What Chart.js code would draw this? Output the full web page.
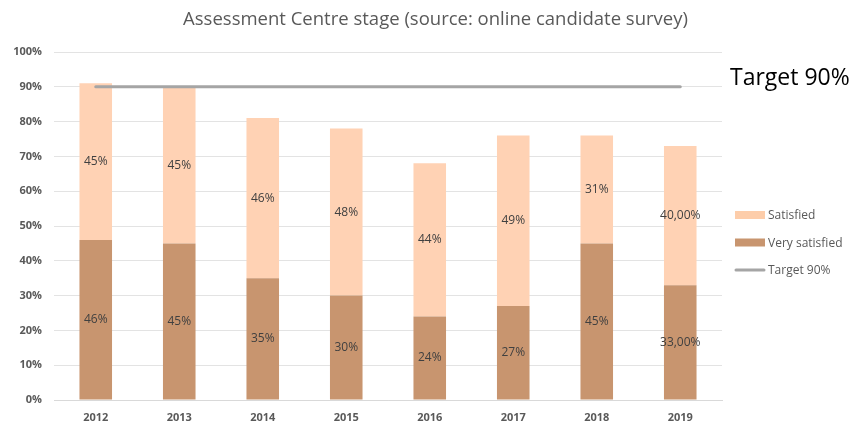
<!DOCTYPE html>
<html><head><meta charset="utf-8">
<script src="https://cdn.jsdelivr.net/npm/chart.js@4/dist/chart.umd.min.js"></script>
<style>html,body{margin:0;padding:0;background:#fff}#wrap{width:867px;height:428px}</style>
</head><body><div id="wrap"><canvas id="c" width="867" height="428"></canvas></div>
<script>
const years = ['2012','2013','2014','2015','2016','2017','2018','2019'];
const verySatisfied = [46,45,35,30,24,27,45,33];
const satisfied = [45,45,46,48,44,49,31,40];
const target = [90,90,90,90,90,90,90,90];
const verySatLabels = ['46%','45%','35%','30%','24%','27%','45%','33,00%'];
const satLabels = ['45%','45%','46%','48%','44%','49%','31%','40,00%'];
const yTicks = [0,10,20,30,40,50,60,70,80,90,100];
const title = 'Assessment Centre stage (source: online candidate survey)';
const targetText = 'Target 90%';

const FONT = "'Open Sans', 'Liberation Sans', sans-serif";

const labelPlugin = {
  id:'labels',
  afterDatasetsDraw(chart){
    const ctx = chart.ctx;
    ctx.save();
    // title centred on the canvas
    ctx.font = "18.5px " + FONT;
    ctx.fillStyle = '#595959';
    ctx.textAlign='center'; ctx.textBaseline='middle';
    ctx.fillText(title, chart.width/2 + 2, 20);

    ctx.font = "12px " + FONT;
    ctx.fillStyle = '#404040';
    const m0 = chart.getDatasetMeta(0), m1 = chart.getDatasetMeta(1);
    m0.data.forEach((b,i)=>{ ctx.fillText(verySatLabels[i], b.x, (b.y+b.base)/2); });
    m1.data.forEach((b,i)=>{ ctx.fillText(satLabels[i], b.x, (b.y+b.base)/2); });
    // target text
    const ys = chart.scales.y;
    ctx.font = "23px " + FONT;
    ctx.fillStyle = '#000';
    ctx.textAlign='left';
    ctx.fillText(targetText, chart.chartArea.right + 8, ys.getPixelForValue(target[target.length-1]) - 8);
    // legend
    const items = [
      {t:chart.data.datasets[1].label, c:chart.data.datasets[1].legendColor, line:false},
      {t:chart.data.datasets[0].label, c:chart.data.datasets[0].legendColor, line:false},
      {t:chart.data.datasets[2].label, c:chart.data.datasets[2].borderColor, line:true}
    ];
    ctx.font = "12px " + FONT;
    const lx = 735; let ly = 215;
    items.forEach(it=>{
      if(it.line){ ctx.strokeStyle=it.c; ctx.lineWidth=3; ctx.lineCap='round'; ctx.beginPath(); ctx.moveTo(lx+1,ly); ctx.lineTo(lx+29,ly); ctx.stroke(); }
      else { ctx.fillStyle=it.c; ctx.fillRect(lx, ly-4, 30, 8); }
      ctx.fillStyle='#595959'; ctx.textAlign='left';
      ctx.fillText(it.t, lx+33, ly+1);
      ly += 27.5;
    });
    ctx.restore();
  }
};

new Chart(document.getElementById('c'), {
  data:{
    labels: years,
    datasets:[
      {type:'bar', label:'Very satisfied', data:verySatisfied, backgroundColor:'#C8956F', legendColor:'#C8956F', stack:'s', barPercentage:0.39, categoryPercentage:1, order:2},
      {type:'bar', label:'Satisfied', data:satisfied, backgroundColor:'#FFD2B4', legendColor:'#FDCDAA', stack:'s', barPercentage:0.39, categoryPercentage:1, order:2},
      {type:'line', label:'Target 90%', data:target, borderColor:'#A5A5A5', borderWidth:3, pointRadius:0, fill:false, order:1, borderCapStyle:'round'}
    ]
  },
  options:{
    responsive:false, animation:false,
    layout:{padding:{left:0,right:145,top:52,bottom:0}},
    plugins:{ legend:{display:false}, tooltip:{enabled:false}, title:{display:false} },
    scales:{
      x:{stacked:true, grid:{display:false, drawTicks:false}, border:{display:true,color:'#D9D9D9'},
         afterFit(s){ s.height = 28; },
         ticks:{color:'#595959', font:{family:FONT,size:11,weight:'bold'}, padding:11}},
      y:{stacked:true, min:0, max:100, afterBuildTicks(s){ s.ticks = yTicks.map(v=>({value:v})); },
         afterFit(s){ s.width = 54; },
         grid:{color:'#E3E3E3', drawTicks:false}, border:{display:false},
         ticks:{color:'#595959', font:{family:FONT,size:11,weight:'bold'}, padding:12, callback:v=>v+'%'}}
    }
  },
  plugins:[labelPlugin]
});
</script></body></html>
